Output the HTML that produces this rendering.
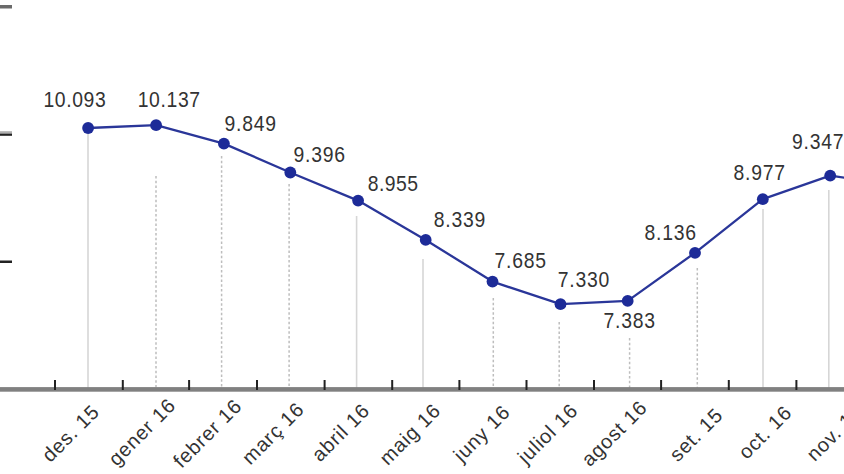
<!DOCTYPE html>
<html><head><meta charset="utf-8"><style>
html,body{margin:0;padding:0;background:#fff;width:844px;height:474px;overflow:hidden}
svg{display:block;font-family:"Liberation Sans",sans-serif}
</style></head><body>
<svg width="844" height="474" viewBox="0 0 844 474">
<rect x="0" y="5" width="12" height="3.5" fill="#6a6a6a"/>
<rect x="0" y="131.2" width="12" height="2.4" fill="#b0b0b0"/>
<rect x="0" y="133.6" width="12" height="2.2" fill="#222"/>
<rect x="0" y="260.5" width="12" height="2.5" fill="#222"/>
<line x1="88" y1="134" x2="88" y2="388" stroke="#d6d6d6" stroke-width="1.6"/>
<line x1="156" y1="176" x2="156" y2="388" stroke="#bdbdbd" stroke-width="1.5" stroke-dasharray="2.4 2.35"/>
<line x1="221.6" y1="156" x2="221.6" y2="388" stroke="#bdbdbd" stroke-width="1.5" stroke-dasharray="2.4 2.35"/>
<line x1="289.1" y1="184" x2="289.1" y2="388" stroke="#bdbdbd" stroke-width="1.5" stroke-dasharray="2.4 2.35"/>
<line x1="356.6" y1="216" x2="356.6" y2="388" stroke="#d6d6d6" stroke-width="1.6"/>
<line x1="423" y1="259" x2="423" y2="388" stroke="#d6d6d6" stroke-width="1.6"/>
<line x1="493.3" y1="298" x2="493.3" y2="388" stroke="#bdbdbd" stroke-width="1.5" stroke-dasharray="2.4 2.35"/>
<line x1="559.2" y1="322" x2="559.2" y2="388" stroke="#bdbdbd" stroke-width="1.5" stroke-dasharray="2.4 2.35"/>
<line x1="629.6" y1="338" x2="629.6" y2="388" stroke="#bdbdbd" stroke-width="1.5" stroke-dasharray="2.4 2.35"/>
<line x1="697.3" y1="268" x2="697.3" y2="388" stroke="#bdbdbd" stroke-width="1.5" stroke-dasharray="2.4 2.35"/>
<line x1="763" y1="209" x2="763" y2="388" stroke="#d6d6d6" stroke-width="1.6"/>
<line x1="828.8" y1="190" x2="828.8" y2="388" stroke="#d6d6d6" stroke-width="1.6"/>
<rect x="0" y="387.1" width="844" height="4.6" fill="#808080"/>
<rect x="54" y="380" width="2" height="10" fill="#222"/>
<rect x="121.8" y="380" width="2" height="10" fill="#222"/>
<rect x="188.1" y="380" width="2" height="10" fill="#222"/>
<rect x="256" y="380" width="2" height="10" fill="#222"/>
<rect x="323.6" y="380" width="2" height="10" fill="#222"/>
<rect x="391.2" y="380" width="2" height="10" fill="#222"/>
<rect x="458.4" y="380" width="2" height="10" fill="#222"/>
<rect x="525.5" y="380" width="2" height="10" fill="#222"/>
<rect x="593" y="380" width="2" height="10" fill="#222"/>
<rect x="660.1" y="380" width="2" height="10" fill="#222"/>
<rect x="727.8" y="380" width="2" height="10" fill="#222"/>
<rect x="795.4" y="380" width="2" height="10" fill="#222"/>
<polyline points="88.1,128.0 156.1,125.2 223.9,143.6 290.3,172.5 358.1,200.6 425.7,239.9 492.5,281.6 560.5,304.2 627.7,300.9 695.0,252.8 762.8,199.2 830.2,175.6 900,186.1" fill="none" stroke="#2a3699" stroke-width="2.3" stroke-linejoin="round"/>
<circle cx="88.1" cy="128.0" r="5.9" fill="#1d2b98"/>
<circle cx="156.1" cy="125.2" r="5.9" fill="#1d2b98"/>
<circle cx="223.9" cy="143.6" r="5.9" fill="#1d2b98"/>
<circle cx="290.3" cy="172.5" r="5.9" fill="#1d2b98"/>
<circle cx="358.1" cy="200.6" r="5.9" fill="#1d2b98"/>
<circle cx="425.7" cy="239.9" r="5.9" fill="#1d2b98"/>
<circle cx="492.5" cy="281.6" r="5.9" fill="#1d2b98"/>
<circle cx="560.5" cy="304.2" r="5.9" fill="#1d2b98"/>
<circle cx="627.7" cy="300.9" r="5.9" fill="#1d2b98"/>
<circle cx="695.0" cy="252.8" r="5.9" fill="#1d2b98"/>
<circle cx="762.8" cy="199.2" r="5.9" fill="#1d2b98"/>
<circle cx="830.2" cy="175.6" r="5.9" fill="#1d2b98"/>
<text transform="translate(43.46,107.14) scale(0.88,1)" font-size="22" letter-spacing="0.7" fill="#333">10.093</text>
<text transform="translate(137.74,107.14) scale(0.88,1)" font-size="22" letter-spacing="0.7" fill="#333">10.137</text>
<text transform="translate(224.48,130.90) scale(0.88,1)" font-size="22" letter-spacing="0.9" fill="#333">9.849</text>
<text transform="translate(293.48,161.82) scale(0.88,1)" font-size="22" letter-spacing="0.9" fill="#333">9.396</text>
<text transform="translate(367.76,191.40) scale(0.88,1)" font-size="22" letter-spacing="0.5" fill="#333">8.955</text>
<text transform="translate(433.78,226.90) scale(0.88,1)" font-size="22" letter-spacing="0.9" fill="#333">8.339</text>
<text transform="translate(494.50,268.18) scale(0.88,1)" font-size="22" letter-spacing="0.9" fill="#333">7.685</text>
<text transform="translate(557.74,286.82) scale(0.88,1)" font-size="22" letter-spacing="0.9" fill="#333">7.330</text>
<text transform="translate(603.50,327.66) scale(0.88,1)" font-size="22" letter-spacing="0.9" fill="#333">7.383</text>
<text transform="translate(644.50,240.10) scale(0.88,1)" font-size="22" letter-spacing="0.9" fill="#333">8.136</text>
<text transform="translate(733.48,180.40) scale(0.88,1)" font-size="22" letter-spacing="0.9" fill="#333">8.977</text>
<text transform="translate(792.00,149.42) scale(0.88,1)" font-size="22" letter-spacing="0.9" fill="#333">9.347</text>
<text transform="translate(100.6,413.0) rotate(-45)" text-anchor="end" font-size="20" letter-spacing="0.8" fill="#333">des. 15</text>
<text transform="translate(177.0,406.6) rotate(-45)" text-anchor="end" font-size="20" letter-spacing="0.8" fill="#333">gener 16</text>
<text transform="translate(243.2,407.4) rotate(-45)" text-anchor="end" font-size="20" letter-spacing="0.8" fill="#333">febrer 16</text>
<text transform="translate(305.4,410.6) rotate(-45)" text-anchor="end" font-size="20" letter-spacing="0.8" fill="#333">març 16</text>
<text transform="translate(371.0,411.8) rotate(-45)" text-anchor="end" font-size="20" letter-spacing="0.8" fill="#333">abril 16</text>
<text transform="translate(442.0,411.9) rotate(-45)" text-anchor="end" font-size="20" letter-spacing="0.8" fill="#333">maig 16</text>
<text transform="translate(511.4,413.4) rotate(-45)" text-anchor="end" font-size="20" letter-spacing="0.8" fill="#333">juny 16</text>
<text transform="translate(579.1,411.9) rotate(-45)" text-anchor="end" font-size="20" letter-spacing="0.8" fill="#333">juliol 16</text>
<text transform="translate(648.5,408.8) rotate(-45)" text-anchor="end" font-size="20" letter-spacing="0.8" fill="#333">agost 16</text>
<text transform="translate(724.2,416.3) rotate(-45)" text-anchor="end" font-size="20" letter-spacing="0.8" fill="#333">set. 15</text>
<text transform="translate(793.2,413.9) rotate(-45)" text-anchor="end" font-size="20" letter-spacing="0.8" fill="#333">oct. 16</text>
<text transform="translate(864.1,413.0) rotate(-45)" text-anchor="end" font-size="20" letter-spacing="0.8" fill="#333">nov. 16</text>
</svg>
</body></html>
